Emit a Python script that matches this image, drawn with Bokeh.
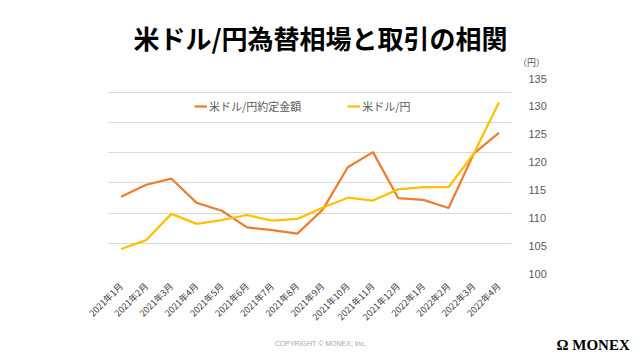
from math import pi
from bokeh.plotting import figure
from bokeh.layouts import column
from bokeh.models import (Range1d, LinearAxis, FixedTicker, Grid, Label, Legend, LegendItem,
                          FactorRange, ColumnDataSource)
from bokeh.embed import file_html
from bokeh.resources import INLINE

months = ["2021年1月", "2021年2月", "2021年3月", "2021年4月", "2021年5月", "2021年6月",
          "2021年7月", "2021年8月", "2021年9月", "2021年10月", "2021年11月", "2021年12月",
          "2022年1月", "2022年2月", "2022年3月", "2022年4月"]
# 米ドル/円約定金額 (relative units, left hidden axis)
amount = [2.54, 2.94, 3.14, 2.34, 2.08, 1.53, 1.44, 1.32, 2.11, 3.52, 4.02, 2.50, 2.44, 2.17, 3.97, 4.66]
# 米ドル/円 (yen, right axis)
usdjpy = [104.4, 106.0, 110.7, 108.9, 109.6, 110.5, 109.5, 109.8, 111.8, 113.6, 113.1, 115.1, 115.5, 115.5, 121.5, 130.7]
yen_ticks = [100, 105, 110, 115, 120, 125, 130, 135]
amount_grid = [0, 1, 2, 3, 4, 5, 6]

JP = "Noto Sans CJK JP"
GREY = "#595959"
W = 632
H = 352
LEFT = 108          # frame left edge in the page
RIGHT = 121
FRAME_R = W - RIGHT  # frame right edge in the page
TOP = 8
BOTTOM = 60
FRAME_H = 195
HEAD_H = 70
FOOT_H = H - HEAD_H - (TOP + FRAME_H + BOTTOM)


def blank(h):
    f = figure(width=W, height=h, output_backend="svg", toolbar_location=None,
               x_range=Range1d(0, 1), y_range=Range1d(0, 1),
               x_axis_location=None, y_axis_location=None, min_border=0)
    f.outline_line_color = None
    f.grid.visible = False
    return f


# ---- header (label x is measured from the aligned frame's left edge) ----
head = blank(HEAD_H)
head.add_layout(Label(x=320 - LEFT, y=33, x_units="screen", y_units="screen",
                      text="米ドル/円為替相場と取引の相関",
                      text_align="center", text_baseline="middle", text_font=JP, text_font_style="bold",
                      text_font_size="26px", text_color="black"))
# unit label lives in the right border panel (not clipped by the frame)
head.add_layout(Label(x=531 - FRAME_R, y=HEAD_H - 62, x_units="screen", y_units="screen", text="（円）",
                      text_align="center", text_baseline="middle", text_font=JP,
                      text_font_size="9px", text_color=GREY), "right")

# ---- main chart ----
src = ColumnDataSource(dict(m=months, amount=amount, usdjpy=usdjpy))
p = figure(width=W, height=TOP + FRAME_H + BOTTOM, output_backend="svg", toolbar_location=None,
           x_range=FactorRange(*months), y_range=Range1d(0, 6.46),
           y_axis_location=None, min_border_left=LEFT, min_border_right=RIGHT,
           min_border_top=TOP, min_border_bottom=BOTTOM)
p.outline_line_color = None
p.xgrid.visible = False

p.extra_y_ranges = {"yen": Range1d(100, 135)}
ax = LinearAxis(y_range_name="yen", ticker=FixedTicker(ticks=yen_ticks))
ax.axis_line_color = None
ax.major_tick_line_color = None
ax.minor_tick_line_color = None
ax.major_label_text_color = GREY
ax.major_label_text_font = "Liberation Sans"
ax.major_label_text_font_size = "11px"
ax.major_label_standoff = 11
p.add_layout(ax, "right")

g = Grid(dimension=1, ticker=FixedTicker(ticks=amount_grid), grid_line_color="#D9D9D9", grid_line_width=1)
p.add_layout(g)

xa = p.xaxis[0]
xa.axis_line_color = None
xa.major_tick_line_color = None
xa.minor_tick_line_color = None
xa.major_label_orientation = pi / 4
xa.major_label_text_font = JP
xa.major_label_text_font_size = "9px"
xa.major_label_text_color = "#404040"
xa.major_label_standoff = 5

r1 = p.line("m", "amount", source=src, line_color="#ED7D31", line_width=2.25)
r2 = p.line("m", "usdjpy", source=src, line_color="#FFC000", line_width=2.25, y_range_name="yen")

leg = Legend(items=[LegendItem(label="米ドル/円約定金額", renderers=[r1]),
                    LegendItem(label="米ドル/円", renderers=[r2])],
             orientation="horizontal", location=(86, 157), border_line_color=None,
             background_fill_alpha=0, label_text_font=JP, label_text_font_size="11px",
             label_text_color=GREY, glyph_width=13, label_standoff=2, spacing=46,
             padding=0, margin=0)
p.add_layout(leg, "center")

# ---- footer (y measured from the footer's bottom edge) ----
foot = blank(FOOT_H)
foot.add_layout(Label(x=320 - LEFT, y=H - 343, x_units="screen", y_units="screen",
                      text="COPYRIGHT © MONEX, Inc.",
                      text_align="center", text_baseline="middle", text_font="Liberation Sans",
                      text_font_size="7px", text_color="#A6A6A6"))
# logo lives in the right border panel (not clipped by the frame)
foot.add_layout(Label(x=556 - FRAME_R, y=H - 344, x_units="screen", y_units="screen",
                      text="Ω MONEX",
                      text_align="left", text_baseline="middle", text_font="Liberation Serif",
                      text_font_style="bold", text_font_size="15px", text_color="black"), "right")

layout = column(head, p, foot, spacing=0)
open("out.html", "w").write(file_html(layout, INLINE))
